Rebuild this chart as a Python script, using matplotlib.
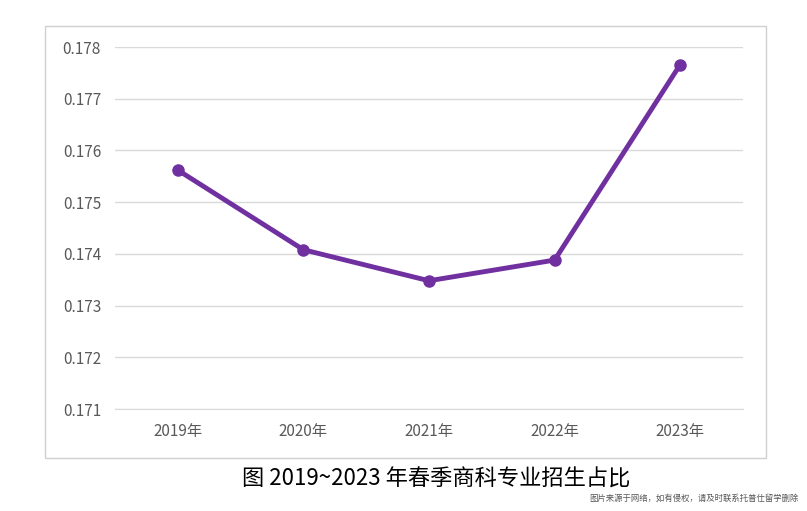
import matplotlib
matplotlib.use("Agg")
import matplotlib.pyplot as plt
from matplotlib.patches import Rectangle

plt.rcParams['font.family'] = ['Noto Sans CJK SC', 'DejaVu Sans']

years = ["2019年", "2020年", "2021年", "2022年", "2023年"]
values = [0.17562, 0.17408, 0.17348, 0.17388, 0.17766]
yticks = [0.171, 0.172, 0.173, 0.174, 0.175, 0.176, 0.177, 0.178]

fig = plt.figure(figsize=(8.07, 5.11), dpi=100)
fig.patches.append(Rectangle((0.0558, 0.1037), 0.893, 0.845, transform=fig.transFigure,
                             fill=False, edgecolor='#d0d0d0', linewidth=1))
ax = fig.add_axes([0.1425, 0.1996, 0.7782, 0.7084])
x = list(range(len(years)))
ax.plot(x, values, color='#7030a0', linewidth=3.5, marker='o', markersize=8)
ax.set_xlim(-0.5, 4.5)
ax.set_ylim(0.171, 0.178)
ax.set_yticks(yticks)
ax.set_yticklabels([f"{v:.3f}" for v in yticks])
ax.set_xticks(x)
ax.set_xticklabels(years)
ax.grid(axis='y', color='#d9d9d9', linewidth=1)
ax.set_axisbelow(True)
for s in ['top', 'right', 'left']:
    ax.spines[s].set_visible(False)
ax.spines['bottom'].set_color('#d9d9d9')
ax.tick_params(length=0, labelsize=11, colors='#595959', pad=10)
fig.text(0.54, 0.062, "图 2019~2023 年春季商科专业招生占比", ha='center', va='center', fontsize=16, color='black')
fig.text(0.99, 0.025, "图片来源于网络，如有侵权，请及时联系托普仕留学删除", ha='right', va='center', fontsize=6, color='#555555')
fig.savefig("out.png", dpi=100)
